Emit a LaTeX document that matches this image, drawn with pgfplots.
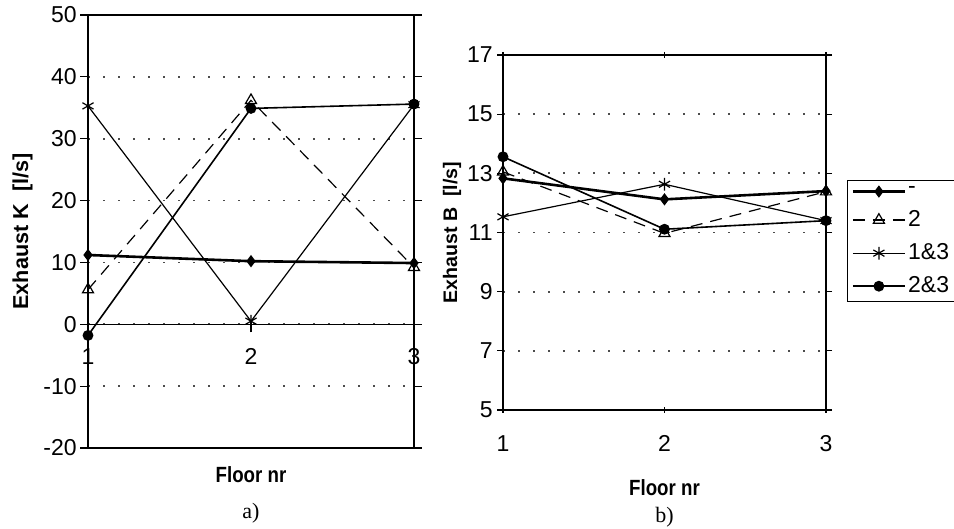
\documentclass[border=0pt]{standalone}
\usepackage{fontspec}
\setmainfont{Liberation Serif}
\setsansfont{Liberation Sans}
\usepackage{graphicx}
\usepackage{pgfplots}
\usepackage{pgfplotstable}
\pgfplotsset{compat=1.18}

\pgfplotstableread{
x minus two onethree twothree
1 11.2 5.6 35.3 -1.8
2 10.2 36.2 0.5 34.9
3 9.9 9.2 35.5 35.6
}\dataA

\pgfplotstableread{
x minus two onethree twothree
1 12.83 13.05 11.53 13.56
2 12.12 10.97 12.63 11.11
3 12.40 12.38 11.40 11.40
}\dataB

\pgfplotsset{
  sminus/.style={black, line width=1.3pt, mark=diamond*, mark size=2.6pt, mark options={solid, line width=0.6pt}},
  stwo/.style={black, line width=0.6pt, dash pattern=on 6pt off 4pt, mark=triangle, mark size=3.2pt, mark options={solid, fill=white, line width=0.6pt}},
  sonethree/.style={black, line width=0.6pt, mark=asterisk, mark size=3.2pt, mark options={solid, line width=0.6pt}},
  stwothree/.style={black, line width=0.8pt, mark=*, mark size=2.3pt, mark options={solid}},
  common/.style={
    scale only axis, clip=false,
    xmin=1, xmax=3, xtick={1,2,3},
    axis line style={line width=0.75pt},
    ymajorgrids,
    major grid style={black!70, line width=0.9pt, dash pattern=on 0.9pt off 6.6pt},
    tick style={black, line width=0.6pt},
    ticklabel style={font=\fontsize{11.5}{13}\sffamily},
    /pgf/number format/assume math mode=true,
    ylabel style={font=\fontsize{10.8}{12}\sffamily\bfseries, anchor=center},
    xlabel style={font=\fontsize{11}{12}\sffamily\bfseries, anchor=center},
    yticklabel style={inner sep=0pt},
  },
}

\begin{document}
\begin{tikzpicture}
\useasboundingbox (0,0) rectangle (477pt,264.5pt);

% ---------- a) ----------
\begin{axis}[common,
  at={(44pt,40.5pt)}, anchor=south west,
  width=163pt, height=216.5pt,
  ymin=-20, ymax=50, ytick={-20,-10,...,50},
  ytick align=outside, major tick length=4pt,
  xtick style={draw=none},
  xticklabel style={anchor=north, inner sep=0pt, yshift=50pt},
  yticklabel style={xshift=-1.5pt},
  ylabel={Exhaust K\ \ [l/s]},
  ylabel style={at={(axis description cs:-0.201,0.5)}},
  xlabel={\scalebox{0.85}[1]{Floor nr}},
  xlabel style={at={(axis description cs:0.5,-0.062)}},
]
\draw[black, line width=0.6pt] (axis cs:1,0) -- (axis cs:3,0);
\draw[black, line width=0.6pt] ([yshift=-4pt]axis cs:2,0) -- ([yshift=2pt]axis cs:2,0);
\addplot[sminus] table[x=x, y=minus] {\dataA};
\addplot[stwo] table[x=x, y=two] {\dataA};
\addplot[sonethree] table[x=x, y=onethree] {\dataA};
\addplot[stwothree] table[x=x, y=twothree] {\dataA};
\node[font=\fontsize{11}{13}\rmfamily] at (axis description cs:0.5,-0.150) {a)};
\end{axis}

% ---------- b) ----------
\begin{axis}[common,
  at={(251.5pt,59.5pt)}, anchor=south west,
  width=161.5pt, height=177.5pt,
  ymin=5, ymax=17, ytick={5,7,...,17},
  ytick align=outside, xtick align=center, major tick length=3pt,
  xticklabel style={anchor=north, inner sep=0pt, yshift=-11pt},
  yticklabel style={xshift=-2pt},
  ylabel={Exhaust B\ \ [l/s]},
  ylabel style={at={(axis description cs:-0.158,0.5)}, font=\fontsize{9.8}{12}\sffamily\bfseries},
  xlabel={\scalebox{0.85}[1]{Floor nr}},
  xlabel style={at={(axis description cs:0.5,-0.22)}},
  legend style={at={(1.065,0.648)}, anchor=north west, draw=black, line width=0.6pt,
    font=\fontsize{11.5}{13}\sffamily, row sep=5pt, inner sep=2pt,
    nodes={inner sep=1pt}},
  legend cell align=left,
  legend image code/.code={\draw[mark repeat=2, mark phase=2, #1] plot coordinates {(0pt,0pt) (13pt,0pt) (26pt,0pt)};},
]
\addplot[sminus] table[x=x, y=minus] {\dataB};
\addlegendentry{-}
\addplot[stwo] table[x=x, y=two] {\dataB};
\addlegendentry{2}
\addplot[sonethree] table[x=x, y=onethree] {\dataB};
\addlegendentry{1\&3}
\addplot[stwothree] table[x=x, y=twothree] {\dataB};
\addlegendentry{2\&3}
\node[font=\fontsize{11}{13}\rmfamily] at (axis description cs:0.5,-0.301) {b)};
\end{axis}
\end{tikzpicture}
\end{document}
